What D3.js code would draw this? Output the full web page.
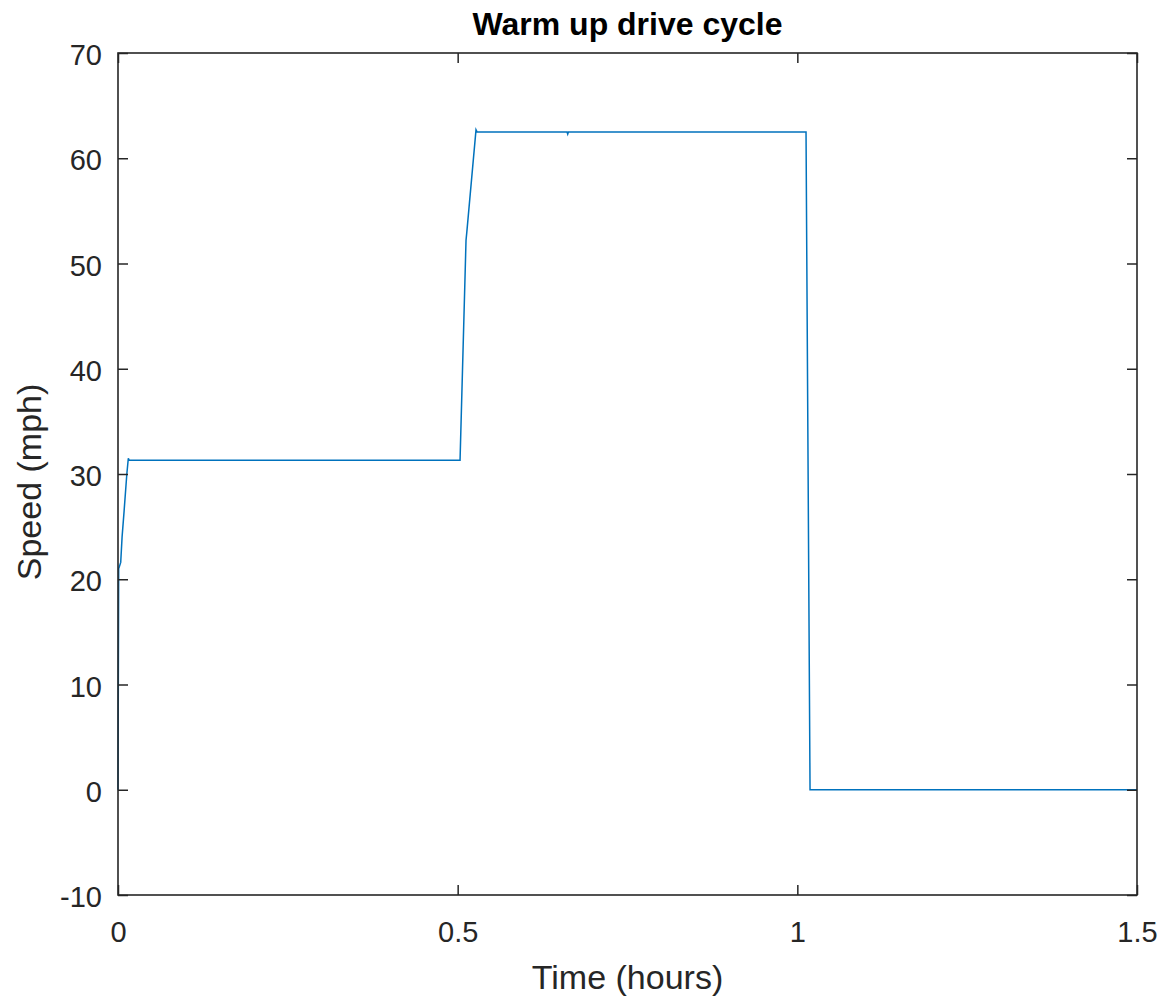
<!DOCTYPE html>
<html>
<head>
<meta charset="utf-8">
<script src="https://cdn.jsdelivr.net/npm/d3@7"></script>
<style>
  body { margin: 0; background: #fff; }
  text { font-family: "Liberation Sans", Arial, sans-serif; fill: #262626; }
</style>
</head>
<body>
<svg id="chart" width="1163" height="1002"></svg>
<script>
// drive cycle samples (hours, mph)
const timeHours = [0, 0.001, 0.004, 0.006, 0.009, 0.013, 0.0152, 0.0165, 0.5035, 0.5123, 0.5135, 0.527, 0.5285, 0.661, 0.662, 0.663, 1.0128, 1.0187, 1.5];
const speedMph  = [0, 21, 21.6, 24, 26.5, 30, 31.5, 31.3, 31.3, 52.2, 53, 62.7, 62.5, 62.5, 62.3, 62.5, 62.5, 0, 0];
const xTicks = [0, 0.5, 1, 1.5];
const yTicks = [-10, 0, 10, 20, 30, 40, 50, 60, 70];

const svg = d3.select("#chart");
const plotLeft = 118, plotRight = 1137, plotTop = 53, plotBottom = 895;

const x = d3.scaleLinear().domain([0, 1.5]).range([plotLeft, plotRight]);
const y = d3.scaleLinear().domain([-10, 70]).range([plotBottom, plotTop]);

const data = timeHours.map((t, i) => ({ t: t, v: speedMph[i] }));

// the trace
svg.append("path")
  .datum(data)
  .attr("fill", "none")
  .attr("stroke", "#0072BD")
  .attr("stroke-width", 1.5)
  .attr("d", d3.line().x(d => x(d.t)).y(d => y(d.v)));

// axes, ticks pointing inwards
function styleAxis(g) {
  g.select(".domain").remove();
  g.selectAll(".tick line").attr("stroke", "#262626").attr("stroke-width", 1.5);
  g.selectAll(".tick text").style("font-size", "29px").attr("fill", "#262626");
}

// plain hyphen for negatives, like the original
const plain = d => String(d);

svg.append("g").attr("transform", `translate(0,${plotBottom})`)
  .call(d3.axisBottom(x).tickValues(xTicks).tickFormat(plain).tickSizeInner(-10))
  .call(styleAxis)
  .call(g => g.selectAll(".tick text").attr("y", 47).attr("dy", 0));
svg.append("g").attr("transform", `translate(0,${plotTop})`)
  .call(d3.axisTop(x).tickValues(xTicks).tickFormat("").tickSizeInner(-10))
  .call(styleAxis);
svg.append("g").attr("transform", `translate(${plotLeft},0)`)
  .call(d3.axisLeft(y).tickValues(yTicks).tickFormat(plain).tickSizeInner(-10).tickPadding(16))
  .call(styleAxis)
  .call(g => g.selectAll(".tick text").attr("dy", "0.4em"));
svg.append("g").attr("transform", `translate(${plotRight},0)`)
  .call(d3.axisRight(y).tickValues(yTicks).tickFormat("").tickSizeInner(-10))
  .call(styleAxis);

// box
svg.append("rect")
  .attr("x", plotLeft).attr("y", plotTop)
  .attr("width", plotRight - plotLeft).attr("height", plotBottom - plotTop)
  .attr("fill", "none").attr("stroke", "#262626").attr("stroke-width", 1.6);

// labels
svg.append("text")
  .attr("x", (plotLeft + plotRight) / 2).attr("y", 35)
  .attr("text-anchor", "middle")
  .style("font-size", "32px").style("font-weight", "bold")
  .style("fill", "#000")
  .text("Warm up drive cycle");

svg.append("text")
  .attr("x", (plotLeft + plotRight) / 2).attr("y", 989)
  .attr("text-anchor", "middle")
  .style("font-size", "34px")
  .text("Time (hours)");

svg.append("text")
  .attr("transform", `translate(41,${(plotTop + plotBottom) / 2 + 8}) rotate(-90)`)
  .attr("text-anchor", "middle")
  .style("font-size", "34px")
  .text("Speed (mph)");
</script>
</body>
</html>
